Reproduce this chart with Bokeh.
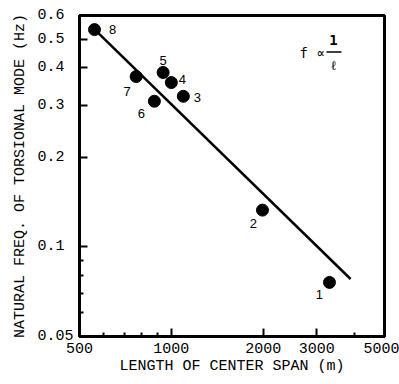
from bokeh.plotting import figure
from bokeh.models import ColumnDataSource, Range1d, FixedTicker, Label
from bokeh.core.properties import value
from bokeh.embed import file_html
from bokeh.resources import INLINE

# data
bridge_ids = ["1", "2", "3", "4", "5", "6", "7", "8"]
span_m = [3300, 1990, 1095, 1000, 940, 880, 767, 560]
freq_hz = [0.076, 0.133, 0.321, 0.357, 0.386, 0.309, 0.374, 0.538]

# fitted line f = C / l
fit_span = [560, 3870]
fit_const = 302.0
fit_freq = [fit_const / s for s in fit_span]

x_ticks = [500, 1000, 2000, 3000, 5000]
x_tick_labels = ["500", "1000", "2000", "3000", "5000"]
x_minor = [600, 700, 800, 900, 4000]
y_ticks = [0.05, 0.1, 0.2, 0.3, 0.4, 0.5, 0.6]
y_tick_labels = ["0.05", "0.1", "0.2", "0.3", "0.4", "0.5", "0.6"]
y_minor = [0.06, 0.07, 0.08, 0.09]

# label offsets (screen px) for each point number
lab_dx = [-10, -9, 14, 11, 0, -13, -9, 18]
lab_dy = [12, 13, 1, -3, -12, 12, 15, 0]

MONO = "Liberation Mono"

p = figure(width=399, height=384, x_axis_type="log", y_axis_type="log",
           x_range=Range1d(500, 5000), y_range=Range1d(0.05, 0.6),
           output_backend="svg", toolbar_location=None,
           min_border_left=79, min_border_right=15, min_border_top=15, min_border_bottom=48)
p.background_fill_color = "white"
p.border_fill_color = "white"
p.outline_line_color = "black"
p.outline_line_width = 3
p.xgrid.visible = False
p.ygrid.visible = False

p.xaxis.ticker = FixedTicker(ticks=x_ticks, minor_ticks=x_minor)
p.yaxis.ticker = FixedTicker(ticks=y_ticks, minor_ticks=y_minor)
p.xaxis.major_label_overrides = {t: l for t, l in zip(x_ticks, x_tick_labels)}
# pad the y labels to equal width so they read left-aligned, as in the original
y_width = max(len(l) for l in y_tick_labels)
p.yaxis.major_label_overrides = {t: l + "\u00a0" * (y_width - len(l))
                                 for t, l in zip(y_ticks, y_tick_labels)}

for ax in (p.xaxis, p.yaxis):
    ax.axis_line_width = 3
    ax.axis_line_color = "black"
    ax.major_tick_in = 8
    ax.major_tick_out = 0
    ax.minor_tick_in = 4
    ax.minor_tick_out = 0
    ax.major_tick_line_width = 2
    ax.minor_tick_line_width = 2
    ax.major_tick_line_color = "black"
    ax.minor_tick_line_color = "black"
    ax.major_label_text_font = MONO
    ax.major_label_text_font_size = "15px"
    ax.major_label_text_color = "black"
    ax.axis_label_text_font = MONO
    ax.axis_label_text_font_size = "15px"
    ax.axis_label_text_font_style = "normal"
    ax.axis_label_text_color = "black"

p.xaxis.axis_label = "LENGTH OF CENTER SPAN (m)"
p.yaxis.axis_label = "NATURAL FREQ. OF TORSIONAL MODE (Hz)"
p.xaxis.major_label_standoff = 6
p.xaxis.axis_label_standoff = 2
p.yaxis.major_label_standoff = 6
p.yaxis.axis_label_standoff = 5

p.line(fit_span, fit_freq, line_color="black", line_width=2.5)

src = ColumnDataSource(dict(x=span_m, y=freq_hz, t=bridge_ids, dx=lab_dx, dy=lab_dy))
p.scatter("x", "y", source=src, size=12, fill_color="black", line_color="black")
p.text("x", "y", text="t", source=src, x_offset="dx", y_offset="dy",
       text_font=value("Liberation Sans"), text_font_size="13px",
       text_align="center", text_baseline="middle", text_color="black")

# formula annotation f ∝ 1/ℓ
p.add_layout(Label(x=2633, y=0.45, text="f ∝", text_font="DejaVu Sans Mono",
                   text_font_size="14px", text_align="left", text_baseline="middle",
                   text_color="black"))
p.add_layout(Label(x=3402, y=0.497, text="1", text_font="DejaVu Sans Mono",
                   text_font_size="14px", text_align="center", text_baseline="middle",
                   text_color="black", text_font_style="bold"))
p.add_layout(Label(x=3402, y=0.409, text="ℓ", text_font="DejaVu Sans Mono",
                   text_font_size="13px", text_align="center", text_baseline="middle",
                   text_color="black"))
p.line([3227, 3614], [0.452, 0.452], line_color="black", line_width=1.5)

open("out.html", "w").write(file_html(p, INLINE))
